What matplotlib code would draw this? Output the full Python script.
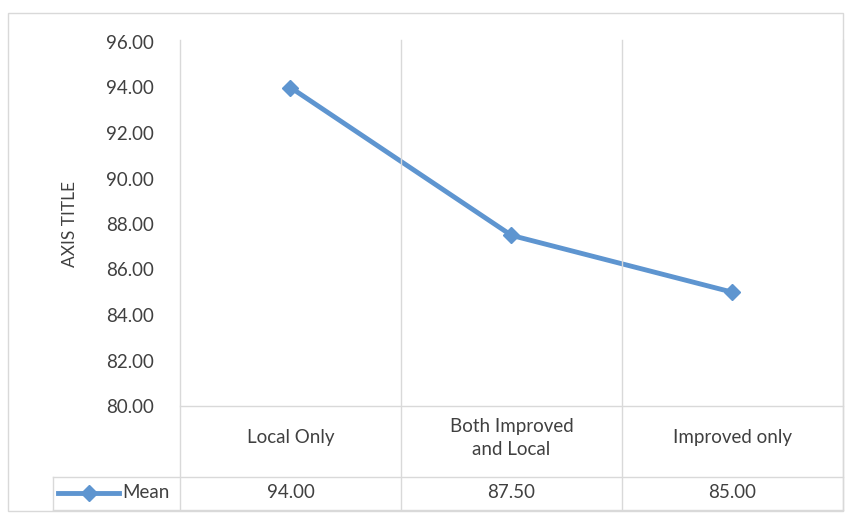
import matplotlib
matplotlib.use("Agg")
import matplotlib.pyplot as plt
from matplotlib.lines import Line2D

categories = ["Local Only", "Both Improved\nand Local", "Improved only"]
series_name = "Mean"
mean_values = [94.00, 87.50, 85.00]
y_ticks = [80, 82, 84, 86, 88, 90, 92, 94, 96]
axis_title = "AXIS TITLE"

plt.rcParams['font.family'] = ['Lato', 'DejaVu Sans']

W, H = 853, 513
fig = plt.figure(figsize=(W / 100, H / 100), dpi=100)
fig.patch.set_facecolor("white")

def fx(px):
    return px / W

def fy(py):
    return 1 - py / H

FS = 13.5
TC = "#404040"

# outer chart border
fig.add_artist(plt.Rectangle((fx(8), fy(511)), fx(843) - fx(8), fy(13) - fy(511),
                             transform=fig.transFigure, fill=False, edgecolor="#d9d9d9", lw=1.0))

left, right, top, bottom = 180, 843, 42, 406
ax = fig.add_axes([fx(left), fy(bottom), fx(right) - fx(left), fy(top) - fy(bottom)])
n = len(categories)
xs = [i + 0.5 for i in range(n)]
color = "#5E95D0"
ax.plot(xs, mean_values, color=color, lw=3.5, marker="D", markersize=8,
        markerfacecolor=color, markeredgecolor=color, solid_capstyle="round", zorder=5)
ax.set_xlim(0, n)
ax.set_ylim(y_ticks[0], y_ticks[-1])
ax.set_yticks(y_ticks)
ax.set_yticklabels([f"{v:.2f}" for v in y_ticks], fontsize=FS, color=TC)
ax.tick_params(axis="y", length=0, pad=19)
ax.set_xticks([])
for s in ax.spines.values():
    s.set_visible(False)
ax.set_ylabel(axis_title, fontsize=12.5, color=TC, labelpad=20)

gc = "#d9d9d9"
# vertical grid / table lines
for i in range(n + 1):
    x = fx(left) + (fx(right) - fx(left)) * i / n
    fig.add_artist(Line2D([x, x], [fy(40), fy(510)], transform=fig.transFigure, color=gc, lw=1))
# horizontal table lines
fig.add_artist(Line2D([fx(left), fx(right)], [fy(bottom), fy(bottom)], transform=fig.transFigure, color=gc, lw=1))
tbl_left = 53
for yy in (477, 510):
    fig.add_artist(Line2D([fx(tbl_left), fx(right)], [fy(yy), fy(yy)], transform=fig.transFigure, color=gc, lw=1))
fig.add_artist(Line2D([fx(tbl_left), fx(tbl_left)], [fy(477), fy(510)], transform=fig.transFigure, color=gc, lw=1))

# category labels and values
for i, (c, v) in enumerate(zip(categories, mean_values)):
    xc = fx(left) + (fx(right) - fx(left)) * (i + 0.5) / n
    fig.text(xc, fy(438), c, ha="center", va="center", fontsize=FS, color=TC, linespacing=1.45)
    fig.text(xc, fy(493), f"{v:.2f}", ha="center", va="center", fontsize=FS, color=TC)

# legend key in table
fig.add_artist(Line2D([fx(58), fx(119)], [fy(493), fy(493)], transform=fig.transFigure,
                      color=color, lw=3.5))
fig.add_artist(Line2D([fx(89)], [fy(493)], transform=fig.transFigure, marker="D", markersize=8,
                      color=color, lw=0))
fig.text(fx(122), fy(493), series_name, ha="left", va="center", fontsize=FS, color=TC)

fig.savefig("out.png", dpi=100, facecolor="white")
